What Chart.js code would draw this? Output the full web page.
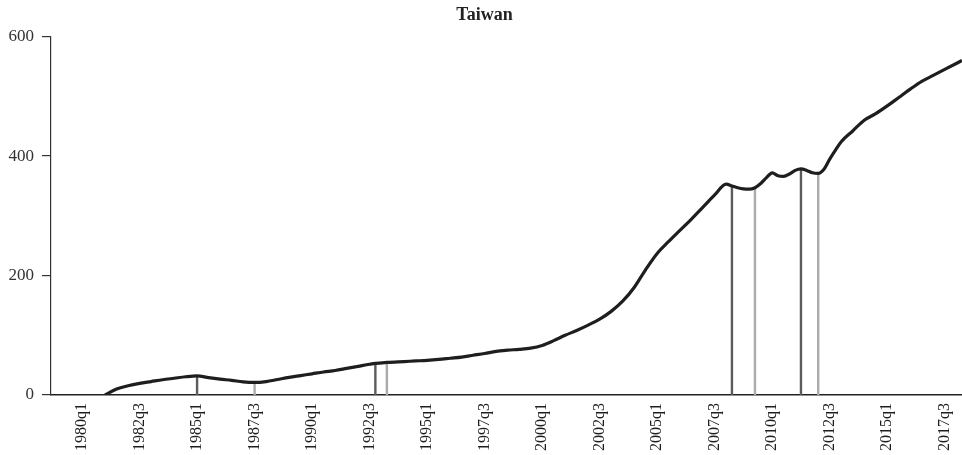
<!DOCTYPE html>
<html>
<head>
<meta charset="utf-8">
<title>Taiwan</title>
<script src="https://cdn.jsdelivr.net/npm/chart.js@4/dist/chart.umd.min.js"></script>
<style>
  html, body { margin: 0; padding: 0; background: #fff; }
  #wrap { width: 962px; height: 455px; }
</style>
</head>
<body>
<div id="wrap"><canvas id="chart"></canvas></div>
<script>
// quarter index: 0 = 1980q1
const quarters = [4, 6, 8, 10, 12, 14, 16, 18, 20, 22, 24, 26, 28, 30, 32, 34, 36, 38, 40, 42, 44, 46, 48, 50, 51, 53,
  56, 58, 60, 62, 64, 66, 68, 70, 72, 74, 76, 78, 80, 82, 84, 86, 88, 90, 92, 94, 96, 98, 100, 102, 104, 106, 108, 110,
  112, 113, 114, 115, 116, 117, 118, 119, 120, 121, 122, 123, 124, 125, 126, 127, 128, 129, 130, 131, 132, 134, 136,
  138, 140, 142, 144, 146, 148, 150, 152, 153];
const values = [0, 10, 15.5, 19.5, 22.5, 25.5, 28, 30.5, 32, 29, 26.5, 24.5, 22, 21, 22.5, 26, 29.5, 32.5, 35.5, 38.5, 41, 44.5, 48, 51.5, 53, 54.5,
  56, 57, 58, 59.5, 61.5, 63.5, 66.5, 69.5, 73, 75, 76.5, 78.5, 83, 91, 100, 108, 117, 127, 140, 157, 180, 210, 237, 257, 276, 295, 315, 335,
  353, 350, 347, 345, 344.5, 347, 354, 364, 372, 367, 366, 370, 376, 378.5, 376, 372, 371, 378, 395, 410, 424, 442, 460,
  471, 484, 498, 512, 525, 535, 545, 555, 560];

const peakQuarters = [20, 51, 113, 125];
const troughQuarters = [30, 53, 117, 128];

const tickLabels = ["1980q1", "1982q3", "1985q1", "1987q3", "1990q1", "1992q3", "1995q1", "1997q3",
  "2000q1", "2002q3", "2005q1", "2007q3", "2010q1", "2012q3", "2015q1", "2017q3"];
const yTicks = [0, 200, 400, 600];

function quarterIndex(label) {
  const year = parseInt(label.slice(0, 4), 10);
  const q = parseInt(label.slice(5), 10);
  return (year - 1980) * 4 + (q - 1);
}

function valueAt(q) {
  return values[quarters.indexOf(q)];
}

function markerLine(q, color) {
  return {
    data: [{ x: q, y: 0 }, { x: q, y: valueAt(q) }],
    borderColor: color,
    borderWidth: 2.4,
    pointRadius: 0,
    tension: 0
  };
}

const datasets = [{
  label: "Taiwan",
  data: quarters.map((q, i) => ({ x: q, y: values[i] })),
  borderColor: "#1e1e1e",
  borderWidth: 3.2,
  pointRadius: 0,
  cubicInterpolationMode: "monotone"
}];
peakQuarters.forEach((q) => datasets.push(markerLine(q, "#5c5c5c")));
troughQuarters.forEach((q) => datasets.push(markerLine(q, "#ababab")));

new Chart(document.getElementById("chart"), {
  type: "line",
  data: { datasets: datasets },
  options: {
    responsive: true,
    maintainAspectRatio: false,
    animation: false,
    layout: { padding: { left: 7, right: 0, top: 0, bottom: 0 } },
    plugins: {
      legend: { display: false },
      tooltip: { enabled: false },
      title: {
        display: true,
        text: "Taiwan",
        color: "#222",
        font: { family: "Liberation Serif", size: 18, weight: "bold" },
        padding: { top: 5, bottom: 10 }
      }
    },
    scales: {
      x: {
        type: "linear",
        min: -5.4,
        max: 153,
        afterBuildTicks: (scale) => {
          scale.ticks = tickLabels.map((l) => ({ value: quarterIndex(l) }));
        },
        afterFit: (scale) => {
          scale.height = 60;
          scale.paddingLeft = 0;
          scale.paddingRight = 0;
        },
        grid: { display: false },
        border: { display: true, color: "#222", width: 1.5 },
        ticks: {
          autoSkip: false,
          maxRotation: 90,
          minRotation: 90,
          padding: 0,
          color: "#1e1e1e",
          font: { family: "Liberation Serif", size: 16 },
          callback: (v, i) => tickLabels[i]
        }
      },
      y: {
        min: 0,
        max: 600,
        afterBuildTicks: (scale) => {
          scale.ticks = yTicks.map((v) => ({ value: v }));
        },
        afterFit: (scale) => { scale.width = 44; },
        grid: { drawOnChartArea: false, drawTicks: true, tickLength: 9, color: "#333", lineWidth: 1.2 },
        border: { display: true, color: "#333", width: 1.2 },
        ticks: {
          padding: 8,
          color: "#333",
          font: { family: "Liberation Serif", size: 17 }
        }
      }
    }
  }
});
</script>
</body>
</html>
